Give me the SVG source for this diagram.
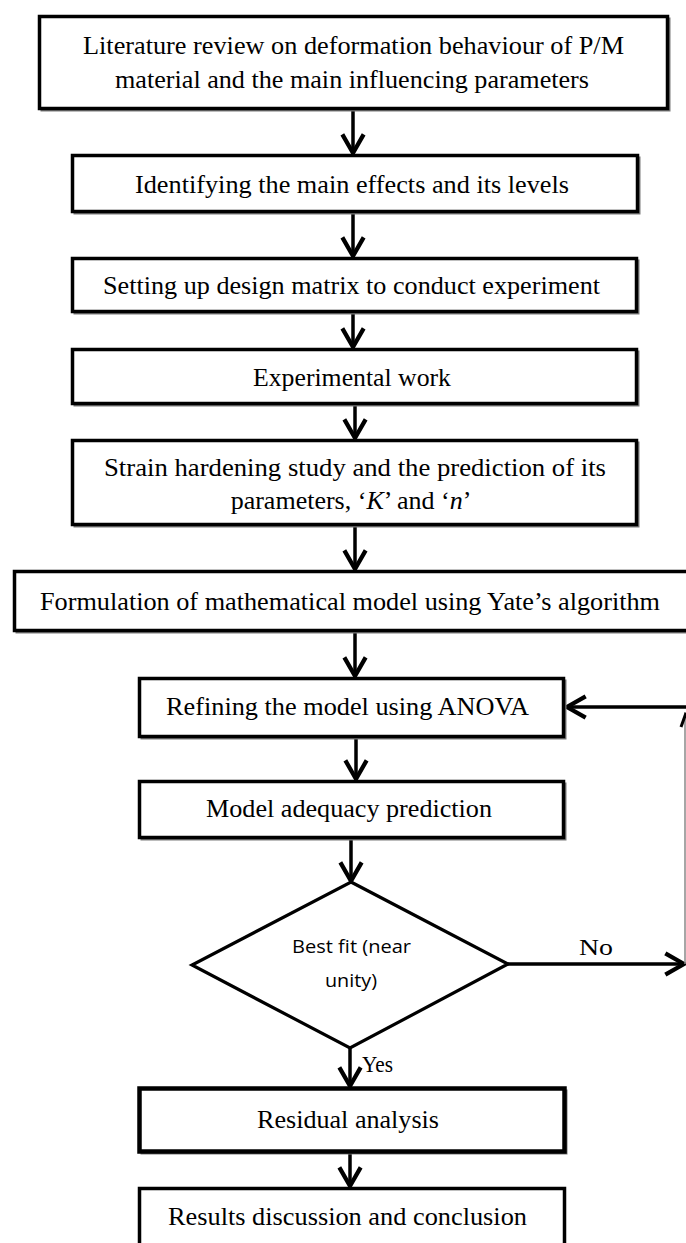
<svg xmlns="http://www.w3.org/2000/svg" width="686" height="1243" viewBox="0 0 686 1243">
<style>
.box{fill:#fff;stroke:#000;stroke-width:3.5}
.sh{fill:none;stroke:#7a7a7a;stroke-width:2}
.t{font-family:"Liberation Serif","Times New Roman",serif;font-size:26px;fill:#000;text-anchor:middle}
.s{font-family:"Open Sans","Noto Sans",sans-serif;font-size:18px;fill:#000;text-anchor:middle}
.c{fill:none;stroke:#000;stroke-width:3.5}
.lbl{font-family:"Liberation Serif","Times New Roman",serif;font-size:23px;fill:#000}
</style>
<defs>
<marker id="ah" markerUnits="userSpaceOnUse" markerWidth="24" markerHeight="24" refX="14" refY="9" orient="auto" viewBox="0 0 18 18" overflow="visible">
<polyline points="0,1 14,9 0,17" fill="none" stroke="#000" stroke-width="3.2"/>
</marker>
</defs>
<rect width="686" height="1243" fill="#fff"/>

<g id="connectors">
<line class="c" x1="353" y1="110" x2="353" y2="153" marker-end="url(#ah)"/>
<line class="c" x1="353" y1="213" x2="353" y2="256" marker-end="url(#ah)"/>
<line class="c" x1="353" y1="313" x2="353" y2="347" marker-end="url(#ah)"/>
<line class="c" x1="355" y1="405" x2="355" y2="438" marker-end="url(#ah)"/>
<line class="c" x1="355" y1="526" x2="355" y2="569" marker-end="url(#ah)"/>
<line class="c" x1="355" y1="632" x2="355" y2="676" marker-end="url(#ah)"/>
<line class="c" x1="356" y1="738" x2="356" y2="779" marker-end="url(#ah)"/>
<line class="c" x1="351" y1="839" x2="351" y2="881" marker-end="url(#ah)"/>
<line class="c" x1="350" y1="1048" x2="350" y2="1086" marker-end="url(#ah)"/>
<line class="c" x1="350" y1="1153" x2="350" y2="1186" marker-end="url(#ah)"/>
<line class="c" x1="508" y1="964" x2="684" y2="964" marker-end="url(#ah)"/>
<line x1="685" y1="964" x2="685" y2="712" stroke="#888" stroke-width="1.5"/>
<line x1="681" y1="727" x2="686" y2="713" stroke="#000" stroke-width="3"/>
<line class="c" x1="686" y1="707" x2="567" y2="707" marker-end="url(#ah)"/>
<text class="lbl" x="579" y="955" textLength="34" lengthAdjust="spacingAndGlyphs">No</text>
<text class="lbl" x="362" y="1072" textLength="31" lengthAdjust="spacingAndGlyphs">Yes</text>
</g>

<g id="n1">
<rect class="sh" x="41.5" y="18.5" width="628" height="92"/>
<rect class="box" x="39.5" y="16.5" width="628" height="92"/>
<text class="t" x="353.5" y="54" textLength="541" lengthAdjust="spacingAndGlyphs">Literature review on deformation behaviour of P/M</text>
<text class="t" x="352" y="88" textLength="474" lengthAdjust="spacingAndGlyphs">material and the main influencing parameters</text>
</g>
<g id="n2">
<rect class="sh" x="74.5" y="157.5" width="565" height="56"/>
<rect class="box" x="72.5" y="155.5" width="565" height="56"/>
<text class="t" x="352" y="193" textLength="434" lengthAdjust="spacingAndGlyphs">Identifying the main effects and its levels</text>
</g>
<g id="n3">
<rect class="sh" x="74.5" y="260.5" width="564" height="53"/>
<rect class="box" x="72.5" y="258.5" width="564" height="53"/>
<text class="t" x="351.5" y="294" textLength="497" lengthAdjust="spacingAndGlyphs">Setting up design matrix to conduct experiment</text>
</g>
<g id="n4">
<rect class="sh" x="74.5" y="351.5" width="564" height="54"/>
<rect class="box" x="72.5" y="349.5" width="564" height="54"/>
<text class="t" x="352" y="386" textLength="198" lengthAdjust="spacingAndGlyphs">Experimental work</text>
</g>
<g id="n5">
<rect class="sh" x="74.5" y="442.5" width="564" height="84"/>
<rect class="box" x="72.5" y="440.5" width="564" height="84"/>
<text class="t" x="355" y="476" textLength="502" lengthAdjust="spacingAndGlyphs">Strain hardening study and the prediction of its</text>
<text class="t" x="351" y="509">parameters, ‘<tspan font-style="italic">K</tspan>’ and ‘<tspan font-style="italic">n</tspan>’</text>
</g>
<g id="n6">
<rect class="sh" x="16.5" y="573.5" width="700" height="59"/>
<rect class="box" x="14.5" y="571.5" width="700" height="59"/>
<text class="t" x="350" y="610" textLength="620" lengthAdjust="spacingAndGlyphs">Formulation of mathematical model using Yate’s algorithm</text>
</g>
<g id="n7">
<rect class="sh" x="141.5" y="680.5" width="424" height="58"/>
<rect class="box" x="139.5" y="678.5" width="424" height="58"/>
<text class="t" x="347.5" y="715" textLength="363" lengthAdjust="spacingAndGlyphs">Refining the model using ANOVA</text>
</g>
<g id="n8">
<rect class="sh" x="141.5" y="783.5" width="424" height="56"/>
<rect class="box" x="139.5" y="781.5" width="424" height="56"/>
<text class="t" x="349" y="817" textLength="286" lengthAdjust="spacingAndGlyphs">Model adequacy prediction</text>
</g>
<g id="n9">
<polygon points="351,882 508,964 350,1048 192,965" fill="#fff" stroke="#000" stroke-width="3.2" stroke-linejoin="miter"/>
<text class="s" x="351.5" y="953" textLength="119" lengthAdjust="spacingAndGlyphs">Best fit (near</text>
<text class="s" x="351" y="987" textLength="52" lengthAdjust="spacingAndGlyphs">unity)</text>
</g>
<g id="n10">
<rect class="sh" x="141.5" y="1090.5" width="425" height="63"/>
<rect class="box" x="139.5" y="1088.5" width="425" height="63" style="stroke-width:4.5"/>
<text class="t" x="348" y="1128" textLength="182" lengthAdjust="spacingAndGlyphs">Residual analysis</text>
</g>
<g id="n11">
<rect class="box" x="139.5" y="1188.5" width="425" height="70"/>
<text class="t" x="347.5" y="1225" textLength="359" lengthAdjust="spacingAndGlyphs">Results discussion and conclusion</text>
</g>
</svg>
